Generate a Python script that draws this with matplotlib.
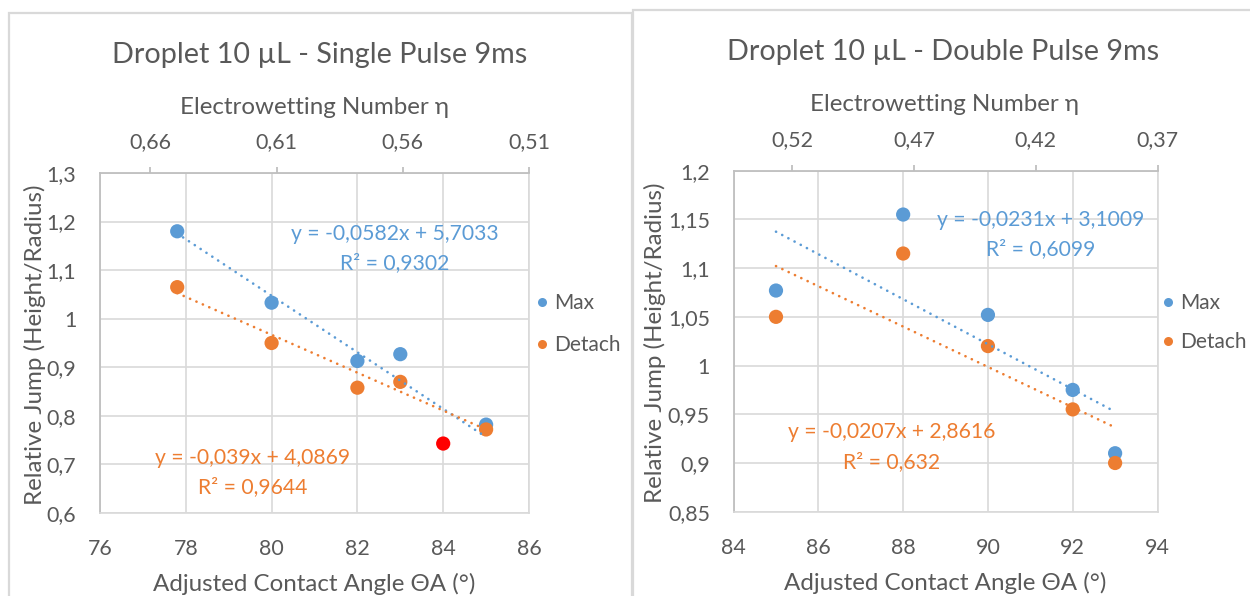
import matplotlib
matplotlib.use("Agg")
import matplotlib.pyplot as plt
from matplotlib.lines import Line2D
from matplotlib.ticker import FuncFormatter, FixedLocator, MultipleLocator
import numpy as np

plt.rcParams['font.family'] = ['Lato', 'DejaVu Sans']

# ---- data -------------------------------------------------------------
single_angle = [77.8, 80, 82, 83, 84, 85]
single_max = [1.18, 1.033, 0.913, 0.927, 0.743, 0.782]
single_max_highlight = 84          # point shown in red
single_detach_angle = [77.8, 80, 82, 83, 85]
single_detach = [1.065, 0.95, 0.858, 0.87, 0.772]
single_fit_max = (-0.0582, 5.7033, "0,9302")
single_fit_detach = (-0.039, 4.0869, "0,9644")

double_angle = [85, 88, 90, 92, 93]
double_max = [1.077, 1.155, 1.052, 0.975, 0.91]
double_detach = [1.05, 1.115, 1.02, 0.955, 0.90]
double_fit_max = (-0.0231, 3.1009, "0,6099")
double_fit_detach = (-0.0207, 2.8616, "0,632")

single_eta_ticks = [0.66, 0.61, 0.56, 0.51]
double_eta_ticks = [0.52, 0.47, 0.42, 0.37]

# ---- style ------------------------------------------------------------
BLUE = "#5B9BD5"
ORANGE = "#ED7D31"
RED = "#FF0000"
TXT = "#595959"
GRID = "#D9D9D9"
AXLINE = "#BFBFBF"

FS_TITLE = 20.7
FS_LABEL = 17.4
FS_TICK = 15.4
FS_LEGEND = 15.0
FS_EQ = 15.2

W, H = 1250, 596
fig = plt.figure(figsize=(W / 100, H / 100), dpi=100)


def fx(px):
    return px / W


def fy(py):
    return 1 - py / H


def comma(v, _pos=None):
    return f"{round(v, 4):g}".replace(".", ",")


def eq_text(m, b):
    return f"y = {comma(m)}x + {comma(b)}"


# chart frames
def frame(x0, y0, x1, y1):
    fig.add_artist(Line2D([fx(x0), fx(x0), fx(x1), fx(x1)],
                          [fy(y1), fy(y0), fy(y0), fy(y1)],
                          transform=fig.transFigure, color=GRID, lw=1.6,
                          solid_joinstyle='miter'))


frame(9, 13, 631.5, 600)
frame(633, 9.5, 1260, 600)


def panel(box, xlim, ylim, ystep, eta_lim, eta_ticks, title, title_xy,
          top_label_xy, bottom_label_xy, ylabel_x, series, fits, eq_pos,
          legend_xy, legend_spacing):
    x0, y0, x1, y1 = box
    ax = fig.add_axes([fx(x0), fy(y1), fx(x1) - fx(x0), fy(y0) - fy(y1)])
    ax.set_xlim(*xlim)
    ax.set_ylim(*ylim)
    ax.xaxis.set_major_locator(MultipleLocator(2))
    ax.yaxis.set_major_locator(MultipleLocator(ystep))
    ax.xaxis.set_major_formatter(FuncFormatter(comma))
    ax.yaxis.set_major_formatter(FuncFormatter(comma))
    ax.grid(True, color=GRID, lw=1.2, zorder=0)
    ax.set_axisbelow(True)
    for s in ("right", "bottom"):
        ax.spines[s].set_color(GRID)
        ax.spines[s].set_linewidth(1.2)
    ax.spines["left"].set_color(AXLINE)
    ax.spines["left"].set_linewidth(1.3)
    ax.spines["top"].set_visible(False)
    ax.tick_params(axis="both", length=0, colors=TXT, labelsize=FS_TICK)
    ax.tick_params(axis="x", pad=19)
    ax.tick_params(axis="y", pad=17)

    # secondary (top) axis: electrowetting number
    tx = ax.twiny()
    tx.set_xlim(*eta_lim)
    tx.xaxis.set_major_locator(FixedLocator(eta_ticks))
    tx.xaxis.set_major_formatter(FuncFormatter(comma))
    tx.tick_params(axis="x", direction="out", length=4, width=1.3,
                   color=AXLINE, labelcolor=TXT, labelsize=FS_TICK, pad=11)
    for s in ("left", "right", "bottom"):
        tx.spines[s].set_visible(False)
    tx.spines["top"].set_color(AXLINE)
    tx.spines["top"].set_linewidth(1.3)

    fig.text(fx(title_xy[0]), fy(title_xy[1]), title, ha="center",
             va="baseline", color=TXT, fontsize=FS_TITLE)
    fig.text(fx(top_label_xy[0]), fy(top_label_xy[1]),
             "Electrowetting Number η", ha="center", va="baseline",
             color=TXT, fontsize=FS_LABEL)
    fig.text(fx(bottom_label_xy[0]), fy(bottom_label_xy[1]),
             "Adjusted Contact Angle ΘA (°)", ha="center", va="baseline",
             color=TXT, fontsize=FS_LABEL)
    fig.text(fx(ylabel_x), fy((y0 + y1) / 2 + 2),
             "Relative Jump (Height/Radius)", ha="center", va="center",
             rotation=90, color=TXT, fontsize=FS_LABEL)

    handles = []
    for xs, ys, color, label, hl in series:
        colors = [RED if (hl is not None and x == hl) else color for x in xs]
        ax.scatter(xs, ys, s=105, c=colors, linewidths=0, zorder=3)
        handles.append(Line2D([], [], ls="none", marker="o", ms=6.5,
                              mec="none", mfc=color, label=label))

    for (xs, (m, b, r2), color), (ex, ey) in zip(fits, eq_pos):
        xx = np.array([min(xs), max(xs)])
        ax.plot(xx, m * xx + b, color=color, lw=1.9,
                ls=(0, (0.05, 2.6)), dash_capstyle="round", zorder=4)
        fig.text(fx(ex), fy(ey[0]), eq_text(m, b), ha="center",
                 va="baseline", color=color, fontsize=FS_EQ)
        fig.text(fx(ex), fy(ey[1]), f"R² = {r2}", ha="center",
                 va="baseline", color=color, fontsize=FS_EQ)

    fig.legend(handles=handles, loc="center left",
               bbox_to_anchor=(fx(legend_xy[0]), fy(legend_xy[1])),
               bbox_transform=fig.transFigure, frameon=False,
               fontsize=FS_LEGEND, handlelength=0.6, handletextpad=0.28,
               labelspacing=legend_spacing, borderpad=0, borderaxespad=0,
               labelcolor=TXT)
    return ax


panel(box=(100, 173, 529, 513), xlim=(76, 86), ylim=(0.6, 1.3), ystep=0.1,
      eta_lim=(0.68, 0.51), eta_ticks=single_eta_ticks,
      title="Droplet 10 µL - Single Pulse 9ms", title_xy=(320, 63),
      top_label_xy=(314, 114), bottom_label_xy=(314, 591), ylabel_x=35,
      series=[(single_angle, single_max, BLUE, "Max", single_max_highlight),
              (single_detach_angle, single_detach, ORANGE, "Detach", None)],
      fits=[(single_angle, single_fit_max, BLUE),
            (single_detach_angle, single_fit_detach, ORANGE)],
      eq_pos=[(395, (240, 269)), (253, (464, 493))],
      legend_xy=(536, 324), legend_spacing=1.05)

panel(box=(733.6, 170.7, 1157.5, 511.7), xlim=(84, 94), ylim=(0.85, 1.2),
      ystep=0.05, eta_lim=(0.544, 0.37), eta_ticks=double_eta_ticks,
      title="Droplet 10 µL - Double Pulse 9ms", title_xy=(943.5, 60),
      top_label_xy=(945, 111), bottom_label_xy=(945, 590), ylabel_x=655,
      series=[(double_angle, double_max, BLUE, "Max", None),
              (double_angle, double_detach, ORANGE, "Detach", None)],
      fits=[(double_angle, double_fit_max, BLUE),
            (double_angle, double_fit_detach, ORANGE)],
      eq_pos=[(1041, (226, 255)), (892, (438, 468))],
      legend_xy=(1162, 322.5), legend_spacing=0.9)

fig.savefig("out.png", dpi=100)
